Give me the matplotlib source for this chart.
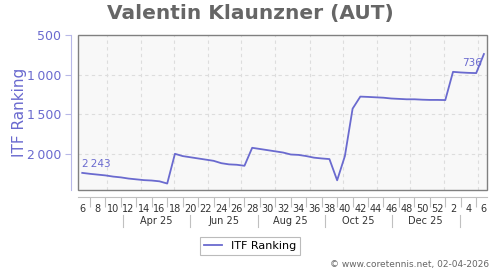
import numpy as np
import matplotlib.pyplot as plt
from matplotlib.patches import Rectangle

# weekly ITF ranking, week 6 2025 .. week 6 2026
weeks = [6, 7, 8, 9, 10, 11, 12, 13, 14, 15, 16, 17, 18, 19, 20, 21, 22, 23, 24, 25,
         26, 27, 28, 29, 30, 31, 32, 33, 34, 35, 36, 37, 38, 39, 40, 41, 42, 43, 44,
         45, 46, 47, 48, 49, 50, 51, 52, 1, 2, 3, 4, 5, 6]
ranking = [2243, 2255, 2265, 2275, 2290, 2300, 2315, 2325, 2335, 2340, 2350, 2378,
           2001, 2030, 2045, 2060, 2075, 2090, 2120, 2135, 2140, 2153,
           1925, 1940, 1955, 1970, 1985, 2010, 2015, 2030, 2050, 2060, 2068,
           2337, 2030, 1429, 1276, 1280, 1285, 1290, 1300, 1305, 1310, 1310,
           1315, 1318, 1318, 1320, 962, 970, 975, 978, 736]
start_date = np.datetime64("2025-02-07")
month_starts = ["2025-03-01", "2025-04-01", "2025-05-01", "2025-06-01", "2025-07-01",
                "2025-08-01", "2025-09-01", "2025-10-01", "2025-11-01", "2025-12-01",
                "2026-01-01", "2026-02-01"]
month_labels = ["Apr 25", "Jun 25", "Aug 25", "Oct 25", "Dec 25"]
month_label_dates = ["2025-04-15", "2025-06-15", "2025-08-15", "2025-10-15", "2025-12-15"]
month_sep_dates = ["2025-03-16", "2025-05-16", "2025-07-16", "2025-09-15", "2025-11-15",
                   "2026-01-15"]
y_ticks = [500, 1000, 1500, 2000]

line_col = "#6a6acf"
x = np.arange(len(ranking))


def to_week(d):
    return (np.datetime64(d) - start_date).astype(int) / 7.0


fig = plt.figure(figsize=(5, 2.7), dpi=100)
ax = fig.add_axes([78 / 500, 80 / 270, 409 / 500, 155 / 270])
ax.set_facecolor("#f8f8f8")

ax.plot(x, ranking, color=line_col, lw=1.3, zorder=3)
ax.set_xlim(-0.55, 52.4)
ax.set_ylim(2460, 495)

# grid
ax.set_yticks(y_ticks)
ax.set_yticklabels([f"{v:,}".replace(",", "\u2009") for v in y_ticks])
for v in y_ticks[1:]:
    ax.axhline(v, color="#dddddd", lw=0.8, ls=(0, (3, 3)), zorder=1)
for d in month_starts:
    ax.axvline(to_week(d), color="#dddddd", lw=0.8, ls=(0, (3, 3)), zorder=1)

# box around the plot area
ax.add_patch(Rectangle((0, 0), 1, 1, transform=ax.transAxes, fill=False,
                       edgecolor="#808080", lw=1.0, zorder=5, clip_on=False))

for s in ["top", "right"]:
    ax.spines[s].set_visible(False)
ax.spines["left"].set_position(("outward", 5))
ax.spines["left"].set_color("#b8b8e8")
ax.spines["bottom"].set_position(("outward", 5))
ax.spines["bottom"].set_color("#c0c0c0")

ax.tick_params(axis="y", colors="#b8b8e8", labelcolor=line_col, labelsize=9,
               length=4, pad=3)
ax.set_ylabel("ITF Ranking", color=line_col, fontsize=11, labelpad=0)

# week labels every 2 weeks, separators in between
ax.set_xticks(x[::2])
ax.set_xticklabels([str(w) for w in weeks[::2]])
ax.set_xticks(x[1::2], minor=True)
ax.tick_params(axis="x", which="major", length=0, labelsize=7, labelcolor="#333333", pad=5)
ax.tick_params(axis="x", which="minor", length=7, color="#c0c0c0", width=0.8)

# month row
trans = ax.get_xaxis_transform()
for lab, d in zip(month_labels, month_label_dates):
    ax.text(to_week(d), -0.2, lab, transform=trans, ha="center", va="center",
            fontsize=7, color="#333333")
for d in month_sep_dates:
    ax.plot([to_week(d)] * 2, [-0.16, -0.24], transform=trans, color="#c0c0c0",
            lw=0.8, clip_on=False)

# first / last value labels
ax.text(x[0], ranking[0] - 110, f"{ranking[0]:,}".replace(",", "\u2009"),
        color=line_col, fontsize=7.5, ha="left", va="center")
ax.text(x[-1] - 0.3, ranking[-1] + 120, str(ranking[-1]), color=line_col,
        fontsize=7.5, ha="right", va="center")

fig.suptitle("Valentin Klaunzner (AUT)", x=0.5, y=0.985, fontsize=14.5,
             fontweight="bold", color="#666666")

leg = ax.legend(["ITF Ranking"], loc="center", bbox_to_anchor=(250 / 500, 24 / 270),
                bbox_transform=fig.transFigure, fontsize=8, frameon=True,
                fancybox=False, handlelength=1.6, borderpad=0.4)
leg.get_frame().set_edgecolor("#aaaaaa")
leg.get_frame().set_linewidth(0.8)

fig.text(0.978, 0.005, "\u00a9 www.coretennis.net, 02-04-2026", ha="right",
         va="bottom", fontsize=6.5, color="#666666")

fig.savefig("out.png", dpi=100)
